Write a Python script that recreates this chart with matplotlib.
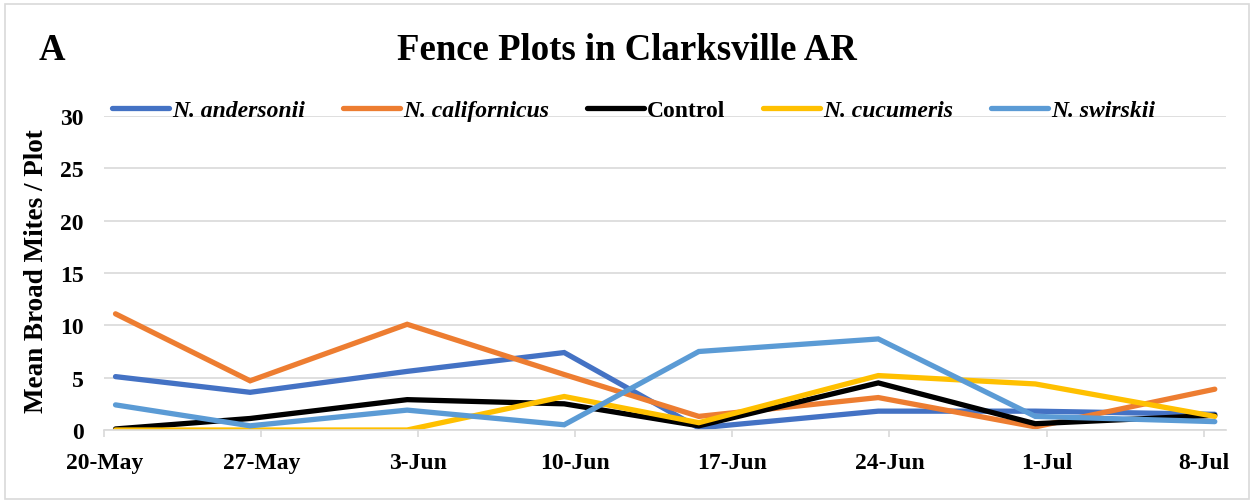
import matplotlib
matplotlib.use("Agg")
import matplotlib.pyplot as plt
import matplotlib.dates as mdates
from matplotlib.patches import Rectangle
import pandas as pd

plt.rcParams['font.family'] = ['Liberation Serif', 'DejaVu Serif']
plt.rcParams['font.weight'] = 'bold'

# sampling dates (collected around midday)
dates = pd.to_datetime(['2019-05-20 12:00', '2019-05-26 12:00', '2019-06-02 12:00',
                        '2019-06-09 12:00', '2019-06-15 12:00', '2019-06-23 12:00',
                        '2019-06-30 12:00', '2019-07-08 12:00'])

andersonii = [5.1, 3.6, 5.6, 7.4, 0.2, 1.8, 1.8, 1.5]
californicus = [11.1, 4.7, 10.1, 5.3, 1.3, 3.1, 0.3, 3.9]
control = [0.1, 1.1, 2.9, 2.5, 0.4, 4.5, 0.6, 1.4]
cucumeris = [0.0, 0.0, 0.0, 3.2, 0.7, 5.2, 4.4, 1.3]
swirskii = [2.4, 0.4, 1.9, 0.5, 7.5, 8.7, 1.3, 0.8]

series = [
    ('N. andersonii', andersonii, '#4472C4', 'italic'),
    ('N. californicus', californicus, '#ED7D31', 'italic'),
    ('Control', control, '#000000', 'normal'),
    ('N. cucumeris', cucumeris, '#FFC000', 'italic'),
    ('N. swirskii', swirskii, '#5B9BD5', 'italic'),
]

fig = plt.figure(figsize=(12.54, 5.02), dpi=100)
ax = fig.add_axes([104.3 / 1254, 1 - 431 / 502, (1226 - 104.3) / 1254, (431 - 117) / 502])

for name, vals, color, style in series:
    ax.plot(dates, vals, color=color, lw=3.8, label=name,
            solid_capstyle='round', solid_joinstyle='miter')

ax.set_ylim(0, 30)
ax.set_yticks(range(0, 31, 5))
ax.set_xlim(pd.Timestamp('2019-05-20'), pd.Timestamp('2019-07-09'))
ax.set_xticks(pd.date_range('2019-05-20', '2019-07-08', freq='7D'))
ax.xaxis.set_major_formatter(mdates.DateFormatter('%-d-%b'))

ax.grid(axis='y', color='#d9d9d9', lw=1.2)
ax.set_axisbelow(True)
for s in ['top', 'right', 'left']:
    ax.spines[s].set_visible(False)
ax.spines['bottom'].set_color('#d9d9d9')
ax.spines['bottom'].set_linewidth(1.2)
ax.tick_params(axis='y', length=0, pad=15, labelsize=17)
ax.tick_params(axis='x', length=5, width=1.2, color='#d9d9d9', pad=11, labelsize=17)

leg = fig.legend(loc='center left', bbox_to_anchor=(112 / 1254, 1 - 111 / 502), ncol=5,
                 frameon=False, fontsize=17, handlelength=2.4, handletextpad=0.15,
                 columnspacing=1.6, borderpad=0, borderaxespad=0)
for txt, (name, vals, color, style) in zip(leg.get_texts(), series):
    txt.set_fontstyle(style)

fig.text(0.5, 1 - 50 / 502, 'Fence Plots in Clarksville AR', ha='center', va='center',
         fontsize=26.5, fontweight='bold')
fig.text(52 / 1254, 1 - 50 / 502, 'A', ha='center', va='center', fontsize=26.5, fontweight='bold')
fig.text(37 / 1254, 1 - 271 / 502, 'Mean Broad Mites / Plot', ha='center', va='center',
         rotation=90, fontsize=19.5, fontweight='bold')

fig.patches.append(Rectangle((5 / 1254, 2 / 502), 1244 / 1254, 495 / 502, transform=fig.transFigure,
                             fill=False, edgecolor='#d9d9d9', lw=1.2))

fig.savefig('out.png', dpi=100, facecolor='white')
